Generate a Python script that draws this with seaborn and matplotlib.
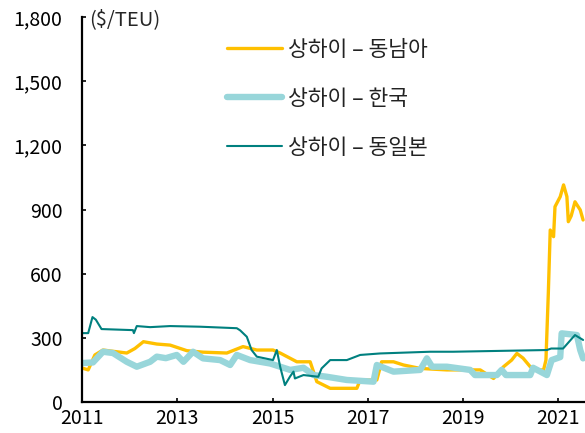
# SHANGHAI CONTAINER FREIGHT RATES (SCFI routes)

# %%
import pandas as pd
import matplotlib
matplotlib.use('Agg')
import matplotlib.pyplot as plt
import seaborn as sns

############################
# 1.0. DATA ($/TEU)
############################

# 상하이 - 동남아
sea_years = [2011.00, 2011.13, 2011.27, 2011.44, 2011.94, 2012.11, 2012.29, 2012.57,
             2012.85, 2013.20, 2013.54, 2014.04, 2014.38, 2014.67, 2015.01, 2015.16,
             2015.51, 2015.79, 2015.93, 2016.21, 2016.77, 2016.84, 2017.19, 2017.29,
             2017.54, 2017.75, 2018.10, 2018.66, 2019.36, 2019.64, 2019.85, 2020.02,
             2020.13, 2020.26, 2020.41, 2020.58, 2020.69, 2020.74, 2020.79, 2020.83,
             2020.90, 2020.93, 2021.04, 2021.11, 2021.18, 2021.21, 2021.27, 2021.35,
             2021.46, 2021.52]
sea_rate = [159, 150, 220, 243, 229, 250, 282, 271,
            266, 240, 233, 229, 259, 243, 243, 229,
            188, 188, 95, 64, 64, 103, 103, 188,
            188, 173, 157, 150, 150, 110, 165, 196,
            227, 205, 165, 150, 150, 196, 509, 804,
            773, 913, 960, 1015, 960, 843, 870, 936,
            898, 851]

# 상하이 - 한국
kor_years = [2011.00, 2011.23, 2011.44, 2011.65, 2011.94, 2012.15, 2012.43, 2012.57,
             2012.76, 2012.99, 2013.13, 2013.33, 2013.54, 2013.90, 2014.11, 2014.25,
             2014.53, 2014.95, 2015.37, 2015.65, 2015.86, 2016.14, 2016.56, 2017.12,
             2017.19, 2017.54, 2018.10, 2018.24, 2018.35, 2018.66, 2019.15, 2019.25,
             2019.71, 2019.81, 2019.90, 2020.41, 2020.47, 2020.76, 2020.86, 2021.04,
             2021.07, 2021.39, 2021.46, 2021.52]
kor_rate = [182, 185, 235, 229, 188, 165, 188, 212,
            205, 220, 188, 235, 204, 196, 173, 220,
            196, 180, 150, 160, 126, 118, 103, 95,
            173, 142, 150, 204, 165, 165, 150, 126,
            126, 150, 126, 126, 160, 126, 196, 210,
            321, 313, 243, 204]

# 상하이 - 동일본
jpn_years = [2011.00, 2011.13, 2011.22, 2011.29, 2011.41, 2012.07, 2012.09, 2012.15,
             2012.43, 2012.85, 2013.48, 2014.25, 2014.32, 2014.46, 2014.56, 2014.67,
             2015.01, 2015.09, 2015.16, 2015.26, 2015.37, 2015.44, 2015.47, 2015.65,
             2015.96, 2016.03, 2016.21, 2016.56, 2016.84, 2017.26, 2018.31, 2018.79,
             2020.76, 2020.85, 2021.10, 2021.35, 2021.52]
jpn_rate = [322, 322, 397, 385, 341, 336, 322, 355,
            350, 355, 352, 345, 335, 305, 243, 212,
            196, 243, 165, 79, 120, 142, 110, 126,
            118, 157, 196, 196, 220, 227, 235, 235,
            243, 250, 250, 313, 290]

labels = ['상하이 – 동남아', '상하이 – 한국', '상하이 – 동일본']
colors = ['#FFC000', '#98D6DA', '#00807F']
widths = [2.4, 4.6, 1.5]

sea = pd.DataFrame({'year': sea_years, 'rate': sea_rate})
kor = pd.DataFrame({'year': kor_years, 'rate': kor_rate})
jpn = pd.DataFrame({'year': jpn_years, 'rate': jpn_rate})

############################
# 2.0. PLOT
############################

# %%
sns.set_style('ticks')
plt.rcParams['font.family'] = ['Noto Sans CJK KR', 'DejaVu Sans']

fig = plt.figure(figsize=(5.85, 4.33), dpi=100)
ax = fig.add_axes([82 / 585, 1 - 402 / 433, 1 - 82 / 585, (402 - 17) / 433])

for df, lab, col, lw in zip([sea, kor, jpn], labels, colors, widths):
    sns.lineplot(data=df, x='year', y='rate', ax=ax, color=col,
                 linewidth=lw, label=lab, estimator=None, sort=False)

ax.set_xlim(2011, 2021.56)
ax.set_ylim(0, 1800)
ax.set_xticks([2011, 2013, 2015, 2017, 2019, 2021])
ax.set_yticks(range(0, 1801, 300))
ax.set_yticklabels([f'{v:,}' for v in range(0, 1801, 300)])
ax.set_xlabel('')
ax.set_ylabel('')
ax.tick_params(axis='both', direction='in', length=3, width=1.2,
               labelsize=14, colors='black')
ax.tick_params(axis='y', pad=14)
ax.tick_params(axis='x', pad=4)
for s in ['top', 'right']:
    ax.spines[s].set_visible(False)
for s in ['left', 'bottom']:
    ax.spines[s].set_linewidth(1.6)
    ax.spines[s].set_color('black')

# legend
leg = ax.legend(loc='upper left', bbox_to_anchor=(227 / 585, 1 - 39 / 433),
                bbox_transform=fig.transFigure, frameon=False, fontsize=15.5,
                handlelength=2.55, handletextpad=0.3, labelspacing=1.25,
                borderpad=0, borderaxespad=0)
for t in leg.get_texts():
    t.set_color('#222222')

fig.text(89 / 585, 1 - 20 / 433, '(\\$/TEU)', fontsize=14.5, va='center', ha='left')

fig.savefig('out.png', dpi=100)
